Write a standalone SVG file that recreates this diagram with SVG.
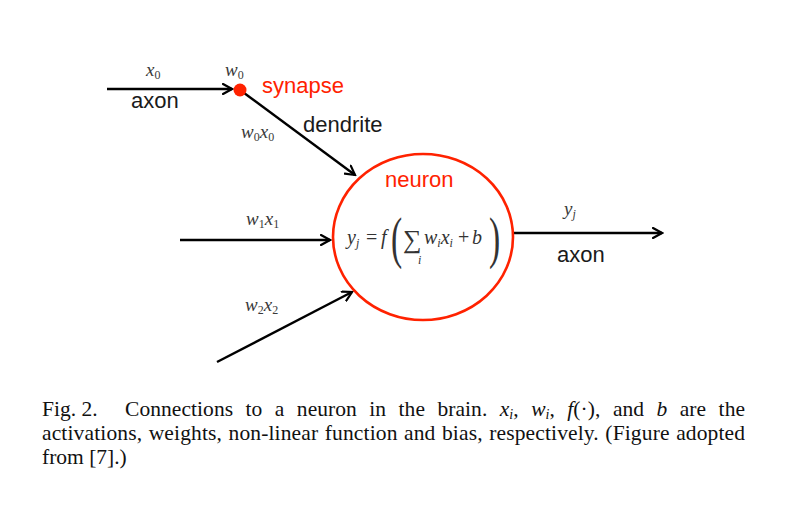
<svg xmlns="http://www.w3.org/2000/svg" width="787" height="511" viewBox="0 0 787 511">
<defs>
<marker id="arr" markerWidth="12" markerHeight="12" refX="10" refY="6" orient="auto" markerUnits="userSpaceOnUse">
<path d="M1,1 L10,6 L1,11" fill="none" stroke="#000" stroke-width="2.2" stroke-linecap="round" stroke-linejoin="miter"/>
</marker>
</defs>
<style>
.lbl{font-family:"Liberation Sans",Arial,sans-serif;font-size:22px;fill:#1a1a1a}
.red{fill:#ff2200}
.m{font-family:"Liberation Serif","Times New Roman",serif;font-style:italic;font-size:19px;fill:#3a3a3a}
.sub{font-size:12px;font-style:normal}
.f{font-family:"Liberation Serif","Times New Roman",serif;fill:#333}
.cap{font-family:"Liberation Serif","Times New Roman",serif;font-size:21.5px;fill:#111}
.it{font-style:italic}
.conn{stroke:#000;stroke-width:2.4;fill:none}
</style>
<rect width="787" height="511" fill="#fff"/>
<g id="connectors">
<line class="conn" x1="107" y1="89" x2="232" y2="89" marker-end="url(#arr)"/>
<line class="conn" x1="240" y1="90" x2="355" y2="175" marker-end="url(#arr)"/>
<line class="conn" x1="180" y1="240" x2="330" y2="240" marker-end="url(#arr)"/>
<line class="conn" x1="217" y1="362" x2="352" y2="292" marker-end="url(#arr)"/>
<line class="conn" x1="512" y1="233" x2="662" y2="233" marker-end="url(#arr)"/>
</g>
<g id="input-axon">
<text class="m" x="146" y="76">x<tspan class="sub" dy="3">0</tspan></text>
<text class="lbl" x="131" y="108">axon</text>
</g>
<g id="synapse">
<circle cx="240" cy="90" r="6.5" fill="#ff2200"/>
<text class="m" x="225" y="76">w<tspan class="sub" dy="3">0</tspan></text>
<text class="lbl red" x="262" y="93">synapse</text>
</g>
<g id="dendrite">
<text class="lbl" x="303" y="132">dendrite</text>
<text class="m" x="241" y="138">w<tspan class="sub" dy="3">0</tspan><tspan dy="-3">x</tspan><tspan class="sub" dy="3">0</tspan></text>
</g>
<g id="input1">
<text class="m" x="246" y="225">w<tspan class="sub" dy="3">1</tspan><tspan dy="-3">x</tspan><tspan class="sub" dy="3">1</tspan></text>
</g>
<g id="input2">
<text class="m" x="245" y="311">w<tspan class="sub" dy="3">2</tspan><tspan dy="-3">x</tspan><tspan class="sub" dy="3">2</tspan></text>
</g>
<g id="neuron">
<ellipse cx="423" cy="237" rx="90" ry="83" fill="none" stroke="#ff2200" stroke-width="2.6"/>
<text class="lbl red" x="385" y="187">neuron</text>
<text class="f" x="347" y="244" style="font-size:20px;font-style:italic">y<tspan style="font-size:12px" dy="3">j</tspan></text>
<text class="f" x="366" y="244" style="font-size:20px">=</text>
<text class="f" x="381" y="244" style="font-size:20px;font-style:italic">f</text>
<text class="f" x="391" y="257" style="font-size:56px" transform="translate(391,257) scale(0.6,1) translate(-391,-257)">(</text>
<text class="f" x="403" y="248" style="font-size:26px">∑</text>
<text class="f" x="418" y="264" style="font-size:12px;font-style:italic">i</text>
<text class="f" x="424" y="244" style="font-size:20px;font-style:italic">w<tspan style="font-size:12px" dy="3">i</tspan><tspan dy="-3">x</tspan><tspan style="font-size:12px" dy="3">i</tspan></text>
<text class="f" x="458" y="244" style="font-size:20px">+</text>
<text class="f" x="472" y="244" style="font-size:20px;font-style:italic">b</text>
<text class="f" x="489" y="257" style="font-size:56px" transform="translate(489,257) scale(0.6,1) translate(-489,-257)">)</text>
</g>
<g id="output-axon">
<text class="m" x="564" y="215">y<tspan class="sub" dy="3" style="font-style:italic">j</tspan></text>
<text class="lbl" x="557" y="262">axon</text>
</g>
<g id="caption">
<text class="cap" x="42" y="416">Fig. 2.</text>
<text class="cap" x="125" y="416" word-spacing="7" textLength="620" lengthAdjust="spacing">Connections to a neuron in the brain. <tspan class="it">x</tspan><tspan class="it" font-size="14" dy="3">i</tspan><tspan dy="-3">, </tspan><tspan class="it">w</tspan><tspan class="it" font-size="14" dy="3">i</tspan><tspan dy="-3">, </tspan><tspan class="it">f</tspan>(·), and <tspan class="it">b</tspan> are the</text>
<text class="cap" x="42" y="440" word-spacing="1" textLength="703" lengthAdjust="spacing">activations, weights, non-linear function and bias, respectively. (Figure adopted</text>
<text class="cap" x="42" y="464">from [7].)</text>
</g>
</svg>
